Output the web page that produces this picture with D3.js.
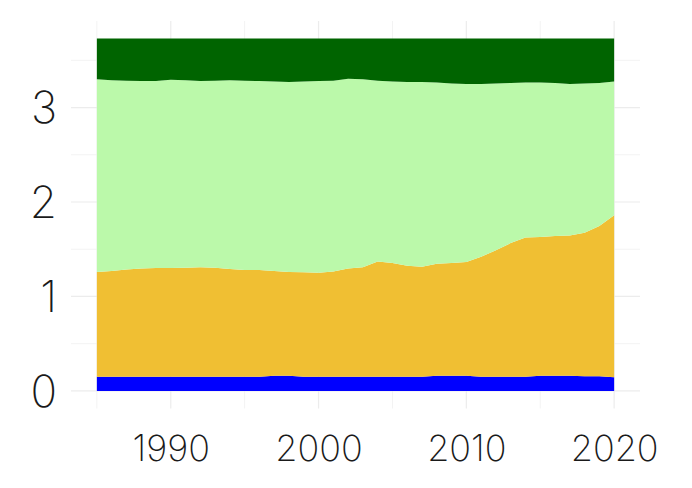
<!DOCTYPE html>
<meta charset="utf-8">
<style>
  body { margin: 0; background: #fff; }
  .tick-label { font-family: "Inter", "Open Sans", sans-serif; font-weight: 200; fill: #1a1a1a; }
</style>
<body>
<script src="https://d3js.org/d3.v7.min.js"></script>
<script>

// years and the four stacked layers, bottom to top
var years = [1985,1986,1987,1988,1989,1990,1991,1992,1993,1994,1995,1996,1997,1998,1999,2000,
             2001,2002,2003,2004,2005,2006,2007,2008,2009,2010,2011,2012,2013,2014,2015,2016,
             2017,2018,2019,2020];

var layer1 = [0.15,0.15,0.15,0.15,0.15,0.15,0.15,0.15,0.15,0.15,0.15,0.15,0.16,0.16,0.15,0.15,
              0.15,0.15,0.15,0.15,0.15,0.15,0.15,0.16,0.16,0.16,0.15,0.15,0.15,0.15,0.16,0.16,
              0.16,0.155,0.155,0.145];

var layer2 = [1.11,1.12,1.135,1.145,1.15,1.15,1.155,1.16,1.155,1.14,1.13,1.13,1.11,1.10,1.105,1.10,
              1.115,1.145,1.16,1.22,1.205,1.175,1.165,1.185,1.195,1.205,1.27,1.34,1.415,1.475,1.47,1.48,
              1.485,1.52,1.59,1.715];

var layer3 = [2.04,2.02,2.00,1.985,1.98,1.995,1.985,1.97,1.98,2.00,2.005,2.00,2.005,2.01,2.02,2.03,
              2.02,2.01,1.99,1.915,1.92,1.945,1.955,1.92,1.90,1.885,1.83,1.765,1.695,1.64,1.635,1.62,
              1.605,1.58,1.515,1.415];

var layer4 = [0.43,0.44,0.445,0.45,0.45,0.435,0.44,0.45,0.445,0.44,0.445,0.45,0.455,0.46,0.455,0.45,
              0.445,0.425,0.43,0.445,0.455,0.46,0.46,0.465,0.475,0.48,0.48,0.475,0.47,0.465,0.465,0.47,
              0.48,0.475,0.47,0.455];

var keys = ["layer1", "layer2", "layer3", "layer4"];
var colors = ["#0000ff", "#f0bf33", "#bbf9aa", "#006400"];

var xMajor = [1990, 2000, 2010, 2020];
var xMinor = [1985, 1995, 2005, 2015];
var yMajor = [0, 1, 2, 3];
var yMinor = [0.5, 1.5, 2.5, 3.5];

var width = 692, height = 488;

var rows = years.map(function(yr, i) {
  return {year: yr, layer1: layer1[i], layer2: layer2[i], layer3: layer3[i], layer4: layer4[i]};
});

var series = d3.stack().keys(keys)(rows);
var yMax = d3.max(series[series.length - 1], function(d) { return d[1]; });

// ggplot-like 5% expansion on both axes
var xPad = (2020 - 1985) * 0.05, yPad = yMax * 0.05;
var x = d3.scaleLinear().domain([1985 - xPad, 2020 + xPad]).range([71, 640]);
var y = d3.scaleLinear().domain([-yPad, yMax + yPad]).range([408.5, 21]);

var svg = d3.select("body").append("svg")
  .attr("width", width)
  .attr("height", height);

// grid
var grid = svg.append("g");
grid.selectAll(".vminor").data(xMinor).enter().append("line")
  .attr("x1", d => x(d)).attr("x2", d => x(d))
  .attr("y1", y.range()[1]).attr("y2", y.range()[0])
  .attr("stroke", "#f3f3f3").attr("stroke-width", 1);
grid.selectAll(".hminor").data(yMinor).enter().append("line")
  .attr("x1", x.range()[0]).attr("x2", x.range()[1])
  .attr("y1", d => y(d)).attr("y2", d => y(d))
  .attr("stroke", "#f3f3f3").attr("stroke-width", 1);
grid.selectAll(".vmajor").data(xMajor).enter().append("line")
  .attr("x1", d => x(d)).attr("x2", d => x(d))
  .attr("y1", y.range()[1]).attr("y2", y.range()[0])
  .attr("stroke", "#ececec").attr("stroke-width", 1.2);
grid.selectAll(".hmajor").data(yMajor).enter().append("line")
  .attr("x1", x.range()[0]).attr("x2", x.range()[1])
  .attr("y1", d => y(d)).attr("y2", d => y(d))
  .attr("stroke", "#ececec").attr("stroke-width", 1.2);

// stacked areas
var area = d3.area()
  .x(function(d) { return x(d.data.year); })
  .y0(function(d) { return y(d[0]); })
  .y1(function(d) { return y(d[1]); });

svg.selectAll(".layer").data(series).enter().append("path")
  .attr("class", "layer")
  .attr("d", area)
  .attr("fill", function(d, i) { return colors[i]; });

// axis labels
var xAxis = d3.axisBottom(x).tickValues(xMajor).tickSize(0).tickPadding(0).tickFormat(d3.format("d"));
var gx = svg.append("g").attr("transform", "translate(0,461)").call(xAxis);
gx.select(".domain").remove();
gx.selectAll("text").attr("class", "tick-label").attr("dy", 0).style("font-size", "36px");

var yAxis = d3.axisLeft(y).tickValues(yMajor).tickSize(0).tickPadding(0).tickFormat(d3.format("d"));
var gy = svg.append("g").attr("transform", "translate(57,0)").call(yAxis);
gy.select(".domain").remove();
gy.selectAll("text").attr("class", "tick-label").attr("dy", "0.35em").style("font-size", "44px");

</script>
</body>
